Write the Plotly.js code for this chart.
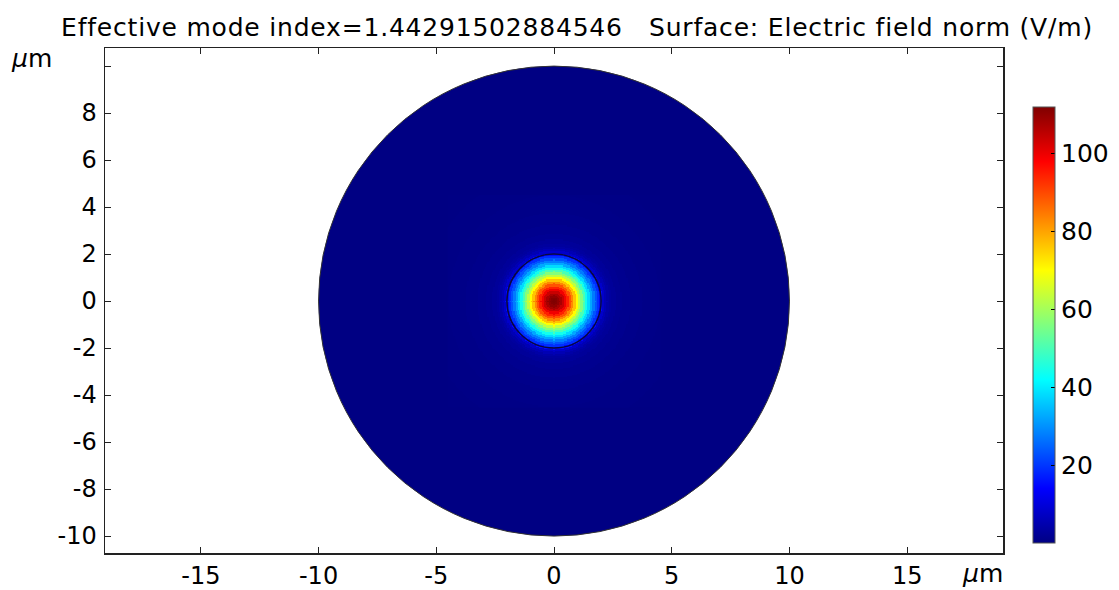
<!DOCTYPE html>
<html>
<head>
<meta charset="utf-8">
<script src="https://cdn.plot.ly/plotly-3.0.1.min.js"></script>
<style>
  html, body { margin: 0; padding: 0; background: #fff; }
  #chart { width: 1119px; height: 590px; }
  #chart .gtitle { letter-spacing: 0.8px; }
</style>
</head>
<body>
<div id="chart"></div>
<script>
// ---- Data ----
// Radial profile of the electric field norm (V/m) vs. radius (µm)
const profileRadius = [0.0, 0.1, 0.2, 0.3, 0.4, 0.5, 0.6, 0.7, 0.8, 0.9,
                       1.0, 1.1, 1.2, 1.3, 1.4, 1.5, 1.6, 1.7, 1.8, 1.9,
                       2.0, 2.1, 2.2, 2.3, 2.4, 2.5, 2.75, 3.0, 3.5, 4.0,
                       5.0, 6.0, 8.0, 10.0];
const profileField  = [112, 111.5, 110, 107.5, 104, 99.5, 94.5, 89, 83, 76.5,
                       70, 63, 56.5, 50, 44, 38, 32.5, 27.5, 23, 19,
                       15, 8, 5.5, 4, 3, 2.5, 1.8, 1.4, 0.9, 0.6,
                       0.3, 0.15, 0.05, 0.02];
// Geometry boundaries (µm): core and cladding radii
const boundaryRadii = [2, 10];
// Tick values and labels
const xTickVals = [-15, -10, -5, 0, 5, 10, 15];
const xTickText = ['-15', '-10', '-5', '0', '5', '10', '15'];
const yTickVals = [-10, -8, -6, -4, -2, 0, 2, 4, 6, 8, 10];
const yTickText = ['-10', '-8', '-6', '-4', '-2', '0', '2', '4', '6', '8', ''];
const cbTickVals = [20, 40, 60, 80, 100];
const colorMin = 0;
const colorMax = 112;
const titleText = 'Effective mode index=1.44291502884546   Surface: Electric field norm (V/m)';
const unitLabel = '<i>µ</i>m';

const jet = [
  [0.0, [0, 0, 131]],
  [0.125, [0, 0, 255]],
  [0.375, [0, 255, 255]],
  [0.625, [255, 255, 0]],
  [0.875, [255, 0, 0]],
  [1.0, [128, 0, 0]]
];
const jetScale = jet.map(s => [s[0], 'rgb(' + s[1].join(',') + ')']);
function jetColor(v) {
  const t = Math.min(1, Math.max(0, (v - colorMin) / (colorMax - colorMin)));
  for (let k = 1; k < jet.length; k++) {
    if (t <= jet[k][0]) {
      const a = jet[k - 1], b = jet[k];
      const f = (t - a[0]) / (b[0] - a[0]);
      const c = a[1].map((ca, i) => Math.round(ca + f * (b[1][i] - ca)));
      return 'rgb(' + c.join(',') + ')';
    }
  }
  return 'rgb(' + jet[jet.length - 1][1].join(',') + ')';
}

// ---- Field grid around the core (the far cladding is drawn as a filled disc) ----
const half = 4.5;
const step = 0.05;
const n = Math.round(2 * half / step) + 1;
const gx = [], gy = [];
for (let i = 0; i < n; i++) { gx.push(-half + i * step); gy.push(-half + i * step); }
function nearestField(r) {
  let best = 0, bd = Infinity;
  for (let k = 0; k < profileRadius.length; k++) {
    const d = Math.abs(profileRadius[k] - r);
    if (d < bd) { bd = d; best = k; }
  }
  return profileField[best];
}
const z = [];
for (let j = 0; j < n; j++) {
  const row = [];
  for (let i = 0; i < n; i++) row.push(nearestField(Math.hypot(gx[i], gy[j])));
  z.push(row);
}

const font = { family: 'DejaVu Sans, sans-serif', color: '#000' };

const trace = {
  type: 'heatmap',
  x: gx, y: gy, z: z,
  zmin: colorMin, zmax: colorMax,
  colorscale: jetScale,
  zsmooth: false,
  hoverinfo: 'skip',
  colorbar: {
    xref: 'paper', yref: 'paper',
    x: (1033 - 105) / 898, xanchor: 'left',
    y: (553 - 543) / 505, yanchor: 'bottom',
    lenmode: 'pixels', len: 436,
    thicknessmode: 'pixels', thickness: 22,
    xpad: 0, ypad: 0,
    outlinewidth: 1, outlinecolor: '#555',
    tickvals: cbTickVals,
    ticks: 'inside', ticklen: 4, tickcolor: '#000',
    tickfont: Object.assign({ size: 25 }, font),
    ticklabelstandoff: 10
  }
};

const cladR = boundaryRadii[boundaryRadii.length - 1];
const shapes = [{
  type: 'circle', xref: 'x', yref: 'y',
  x0: -cladR, x1: cladR, y0: -cladR, y1: cladR,
  fillcolor: jetColor(profileField[profileField.length - 1]),
  line: { width: 0 },
  layer: 'below'
}].concat(boundaryRadii.map((r, idx) => ({
  type: 'circle', xref: 'x', yref: 'y',
  x0: -r, x1: r, y0: -r, y1: r,
  line: { color: idx === 0 ? 'rgb(10,10,60)' : '#333', width: idx === 0 ? 1.5 : 1 },
  layer: 'above'
})));

const axisCommon = {
  showgrid: false, zeroline: false,
  showline: true, linecolor: '#222', linewidth: 1.5,
  mirror: 'ticks', ticks: 'inside', ticklen: 6, tickwidth: 1, tickcolor: '#222',
  tickfont: Object.assign({ size: 24 }, font),
  fixedrange: true
};

const layout = {
  width: 1119, height: 590,
  margin: { l: 105, r: 116, t: 48, b: 37, autoexpand: false },
  paper_bgcolor: '#fff', plot_bgcolor: '#fff',
  title: {
    text: titleText,
    font: Object.assign({ size: 25 }, font),
    xref: 'container', yref: 'container',
    x: 577 / 1119, xanchor: 'center',
    y: 1 - 27 / 590, yanchor: 'middle'
  },
  xaxis: Object.assign({}, axisCommon, {
    range: [-19.07, 19.07],
    tickmode: 'array', tickvals: xTickVals, ticktext: xTickText,
    ticklabelstandoff: 1
  }),
  yaxis: Object.assign({}, axisCommon, {
    range: [-10.72, 10.77],
    tickmode: 'array', tickvals: yTickVals, ticktext: yTickText,
    ticklabelstandoff: 2
  }),
  shapes: shapes,
  annotations: [
    { text: unitLabel, xref: 'paper', yref: 'paper', x: -0.082, y: 0.98,
      xanchor: 'center', yanchor: 'middle', showarrow: false,
      font: Object.assign({ size: 25 }, font) },
    { text: unitLabel, xref: 'paper', yref: 'paper', x: 0.977, y: -0.04,
      xanchor: 'center', yanchor: 'middle', showarrow: false,
      font: Object.assign({ size: 25 }, font) }
  ]
};

Plotly.newPlot('chart', [trace], layout, { displayModeBar: false, staticPlot: true });
</script>
</body>
</html>
